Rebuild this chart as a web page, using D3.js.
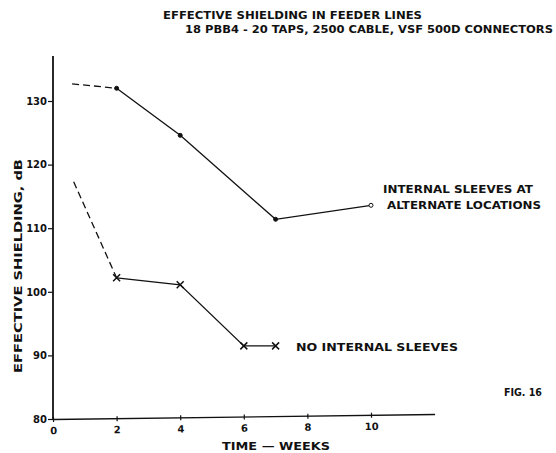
<!DOCTYPE html>
<html>
<head>
<meta charset="utf-8">
<script src="https://cdn.jsdelivr.net/npm/d3@7"></script>
<style>
  body { margin: 0; background: #fff; }
  text { font-family: 'DejaVu Sans', sans-serif; font-weight: bold; fill: #111; }
</style>
</head>
<body>
<div id="chart"></div>
<script>
// data
var weeksWithSleeves = [2, 4, 7, 10];
var shieldWithSleeves = [132.0, 124.6, 111.4, 113.6];
var dashWithSleeves = [[0.6, 132.7], [2, 132.0]];

var weeksNoSleeves = [2, 4, 6, 7];
var shieldNoSleeves = [102.2, 101.1, 91.5, 91.5];
var dashNoSleeves = [[0.65, 117.3], [2, 102.2]];

var xTicks = [0, 2, 4, 6, 8, 10];
var yTicks = [80, 90, 100, 110, 120, 130];

var svgWidth = 556;
var svgHeight = 453;

var svg = d3
  .select('#chart')
  .append('svg')
  .attr('width', svgWidth)
  .attr('height', svgHeight);

var xScale = d3.scaleLinear().domain([0, 12]).range([53, 434.6]);
var yScale = d3.scaleLinear().domain([80, 130]).range([419, 101]);

// y axis, runs a bit above the last tick
var yAxis = svg
  .append('g')
  .attr('transform', 'translate(53,0)')
  .call(d3.axisLeft(yScale).tickValues(yTicks).tickSize(5).tickSizeOuter(0).tickPadding(1));
yAxis.select('.domain').remove();
yAxis
  .append('line')
  .attr('x1', 0)
  .attr('x2', 0)
  .attr('y1', yScale(80))
  .attr('y2', 56)
  .attr('stroke', '#111')
  .attr('stroke-width', 1.8);
yAxis.selectAll('.tick line').attr('stroke', '#111').attr('stroke-width', 1.2);
yAxis.selectAll('.tick text').style('font-size', '10px').attr('fill', '#111');

// x axis, the original is drawn slightly tilted
var xAxis = svg
  .append('g')
  .attr('transform', 'translate(0,419) rotate(-0.75,53,0)')
  .call(d3.axisBottom(xScale).tickValues(xTicks).tickSize(3).tickSizeOuter(0).tickPadding(5));
xAxis.select('.domain').attr('stroke', '#111').attr('stroke-width', 1.3);
xAxis.selectAll('.tick line').attr('y1', -2).attr('stroke', '#111').attr('stroke-width', 1.2);
xAxis.selectAll('.tick text').style('font-size', '10px').attr('fill', '#111');

var line = d3
  .line()
  .x((d) => xScale(d[0]))
  .y((d) => yScale(d[1]));

var upper = weeksWithSleeves.map((w, i) => [w, shieldWithSleeves[i]]);
var lower = weeksNoSleeves.map((w, i) => [w, shieldNoSleeves[i]]);

// dashed extrapolations
[dashWithSleeves, dashNoSleeves].forEach(function (d) {
  svg
    .append('path')
    .attr('d', line(d))
    .attr('fill', 'none')
    .attr('stroke', '#111')
    .attr('stroke-width', 1.3)
    .attr('stroke-dasharray', '7,4');
});

// solid curves
[upper, lower].forEach(function (d) {
  svg
    .append('path')
    .attr('d', line(d))
    .attr('fill', 'none')
    .attr('stroke', '#111')
    .attr('stroke-width', 1.3);
});

// dots on upper curve, the last one open
svg
  .selectAll('.dot')
  .data(upper)
  .enter()
  .append('circle')
  .attr('cx', (d) => xScale(d[0]))
  .attr('cy', (d) => yScale(d[1]))
  .attr('r', 2)
  .attr('fill', (d, i) => (i === upper.length - 1 ? '#fff' : '#111'))
  .attr('stroke', '#111')
  .attr('stroke-width', 1);

// crosses on lower curve
var s = 3.5;
svg
  .selectAll('.cross')
  .data(lower)
  .enter()
  .append('path')
  .attr('d', function (d) {
    var cx = xScale(d[0]);
    var cy = yScale(d[1]);
    return `M${cx - s},${cy - s}L${cx + s},${cy + s}M${cx - s},${cy + s}L${cx + s},${cy - s}`;
  })
  .attr('stroke', '#111')
  .attr('stroke-width', 1.5);

// text helper, fits each string to the width in the original
function label(str, x, y, w, size) {
  return svg
    .append('text')
    .attr('x', x)
    .attr('y', y)
    .attr('textLength', w)
    .attr('lengthAdjust', 'spacingAndGlyphs')
    .style('font-size', size + 'px')
    .text(str);
}

label('EFFECTIVE SHIELDING IN FEEDER LINES', 163, 19, 259, 11);
label('18 PBB4 - 20 TAPS, 2500 CABLE, VSF 500D CONNECTORS', 185, 33, 368, 11);

label('INTERNAL SLEEVES AT', 383, 193, 150, 11);
label('ALTERNATE LOCATIONS', 387, 209, 154, 11);
label('NO INTERNAL SLEEVES', 296, 351, 162, 11);
label('FIG. 16', 504, 396, 38, 10.5);

label('TIME \u2014 WEEKS', 222, 450, 108, 11);

svg
  .append('text')
  .attr('transform', 'translate(22,266) rotate(-90)')
  .attr('text-anchor', 'middle')
  .attr('textLength', 214)
  .attr('lengthAdjust', 'spacingAndGlyphs')
  .style('font-size', '11px')
  .text('EFFECTIVE SHIELDING, dB');
</script>
</body>
</html>
